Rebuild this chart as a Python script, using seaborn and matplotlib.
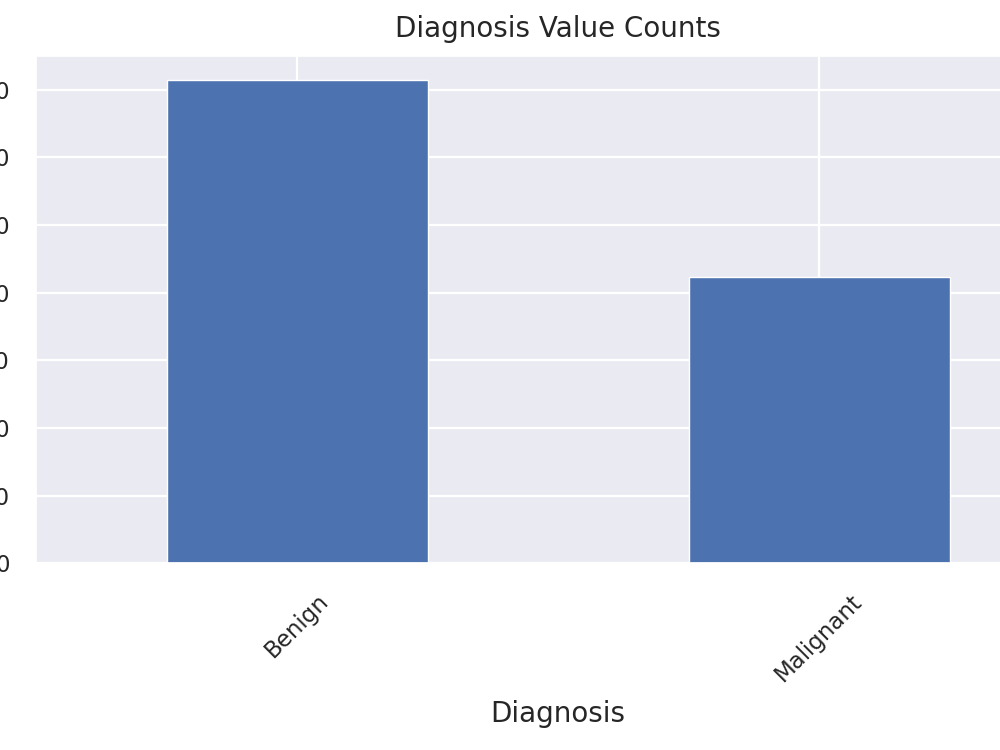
import matplotlib
matplotlib.use("Agg")
import matplotlib.pyplot as plt
import seaborn as sns

# data
diagnosis = ["Benign", "Malignant"]
counts = [357, 212]

sns.set_theme(style="darkgrid")

fig = plt.figure(figsize=(10, 7.5), dpi=100)
# the reference is a crop, so the axes run past the left/right edges
ax = fig.add_axes([0.036, 0.249, 1.044, 0.676])

sns.barplot(x=diagnosis, y=counts, color="#4C72B0", saturation=1,
            width=0.5, edgecolor="white", linewidth=1, ax=ax)
ax.set_xlim(-0.5, 1.5)
ax.set_ylim(0, max(counts) * 1.05)
ax.set_yticks(range(0, 351, 50))
ax.grid(True, axis="both", color="white", linewidth=1.6)
ax.set_axisbelow(True)

ax.set_title("Diagnosis Value Counts", fontsize=20, pad=14)
ax.set_xlabel("Diagnosis", fontsize=20, labelpad=10)
ax.set_ylabel("")
ax.tick_params(axis="both", labelsize=16.5, pad=13)
plt.setp(ax.get_xticklabels(), rotation=45)

fig.savefig("out.png", dpi=100)
